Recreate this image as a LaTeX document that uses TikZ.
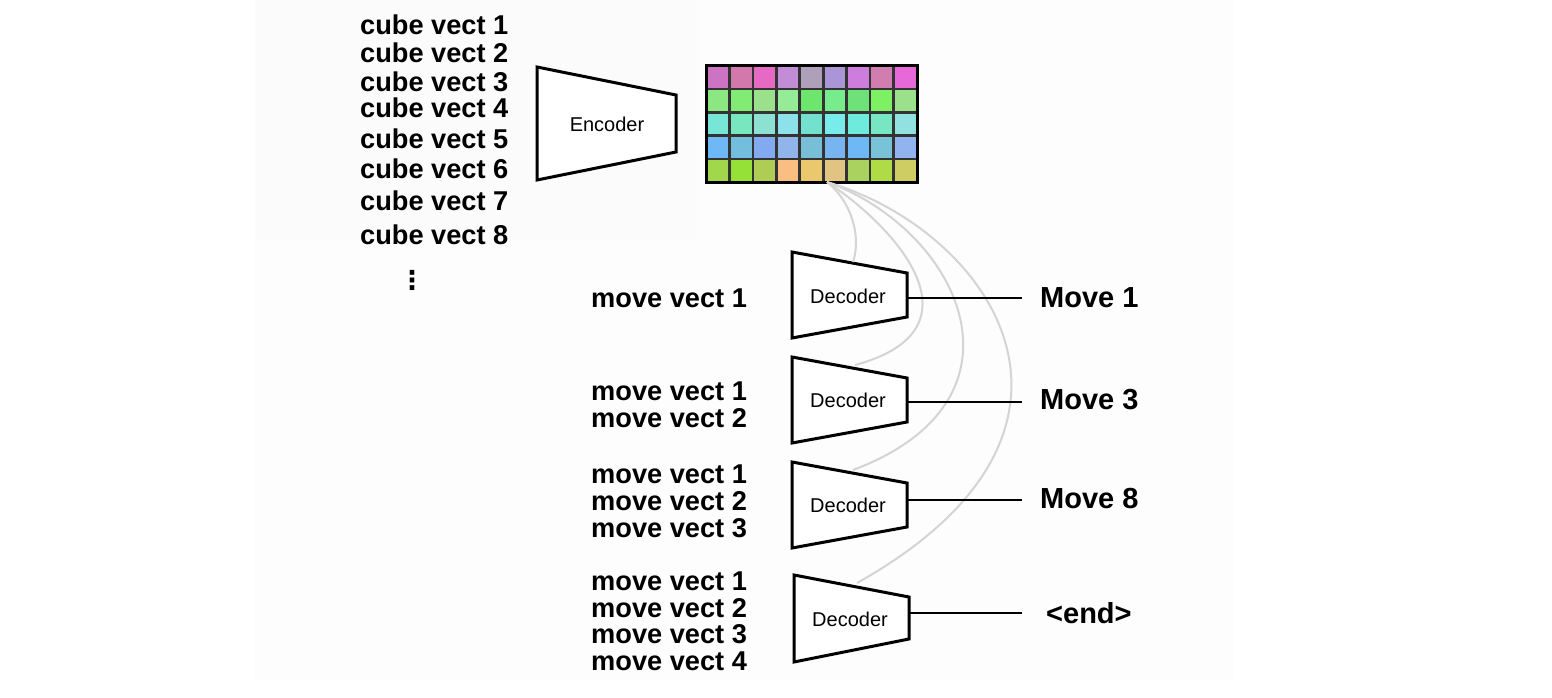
\documentclass[tikz,border=0pt]{standalone}
\usepackage{fontspec}
\setmainfont{Liberation Sans}
\newfontfamily\djv{DejaVu Sans}
\begin{document}
\begin{tikzpicture}[x=1pt,y=-1pt,
  lbl/.style={anchor=base west,inner sep=0pt,font=\fontsize{27.2}{28}\selectfont\bfseries},
  mlbl/.style={anchor=base west,inner sep=0pt,font=\fontsize{29}{30}\selectfont\bfseries},
  boxtxt/.style={inner sep=0pt,font=\fontsize{20}{21}\selectfont},
  trap/.style={draw=black,line width=3pt,line join=miter,fill=white},
  conn/.style={draw=black,line width=2.6pt},
  att/.style={draw=black!17,line width=2pt}]
\useasboundingbox (0,0) rectangle (1552,698);
\fill[white] (0,0) rectangle (1552,698);
\fill[black!0.8] (255,0) rectangle (1233,680);
\fill[black!1.6] (255,0) rectangle (700,240);
% cube vectors
\foreach \i/\b in {1/35,2/63,3/92,4/118,5/148,6/178,7/210,8/244}
  \node[lbl] (cv\i) at (360,\b) {cube vect \i};
\node[inner sep=0pt,font=\djv\fontsize{26}{26}\selectfont\bfseries] (dots) at (412,280) {⋮};
% encoder
\draw[trap] (537,67) -- (676,95) -- (676,152) -- (537,180) -- cycle;
\node[boxtxt] (enc) at (607,124) {Encoder};
% grid
\definecolor{c11}{RGB}{205,115,195}\definecolor{c12}{RGB}{210,120,170}\definecolor{c13}{RGB}{230,105,195}
\definecolor{c14}{RGB}{195,140,215}\definecolor{c15}{RGB}{175,160,185}\definecolor{c16}{RGB}{170,150,215}
\definecolor{c17}{RGB}{205,125,220}\definecolor{c18}{RGB}{210,125,175}\definecolor{c19}{RGB}{230,105,215}
\definecolor{c21}{RGB}{140,230,130}\definecolor{c22}{RGB}{130,235,115}\definecolor{c23}{RGB}{155,225,140}
\definecolor{c24}{RGB}{150,235,150}\definecolor{c25}{RGB}{110,230,110}\definecolor{c26}{RGB}{120,235,140}
\definecolor{c27}{RGB}{110,225,120}\definecolor{c28}{RGB}{125,240,100}\definecolor{c29}{RGB}{155,225,140}
\definecolor{c31}{RGB}{120,230,215}\definecolor{c32}{RGB}{120,230,190}\definecolor{c33}{RGB}{140,225,210}
\definecolor{c34}{RGB}{140,225,235}\definecolor{c35}{RGB}{115,225,205}\definecolor{c36}{RGB}{120,235,235}
\definecolor{c37}{RGB}{110,235,220}\definecolor{c38}{RGB}{120,230,195}\definecolor{c39}{RGB}{145,225,225}
\definecolor{c41}{RGB}{110,185,245}\definecolor{c42}{RGB}{115,190,220}\definecolor{c43}{RGB}{130,170,240}
\definecolor{c44}{RGB}{145,180,235}\definecolor{c45}{RGB}{120,190,215}\definecolor{c46}{RGB}{120,180,240}
\definecolor{c47}{RGB}{110,185,245}\definecolor{c48}{RGB}{120,195,215}\definecolor{c49}{RGB}{145,180,240}
\definecolor{c51}{RGB}{160,215,75}\definecolor{c52}{RGB}{150,225,55}\definecolor{c53}{RGB}{175,205,85}
\definecolor{c54}{RGB}{250,190,130}\definecolor{c55}{RGB}{235,200,110}\definecolor{c56}{RGB}{225,195,130}
\definecolor{c57}{RGB}{170,210,95}\definecolor{c58}{RGB}{175,220,70}\definecolor{c59}{RGB}{205,205,100}
\foreach \r in {1,...,5}
  \foreach \c in {1,...,9}
    \filldraw[fill=c\r\c,draw=black!80,line width=2.6pt]
      ({706+(\c-1)*23.44},{66+(\r-1)*23.2}) rectangle ++(23.44,23.2);
\draw[black,line width=3pt] (706,66) rectangle (917,182);
\coordinate (g) at (827,182);
% decoders
\draw[trap] (792,252) -- (907,273) -- (907,317) -- (792,338) -- cycle;
\draw[trap] (792,357) -- (907,378) -- (907,422) -- (792,443) -- cycle;
\draw[trap] (792,462) -- (907,483) -- (907,527) -- (792,548) -- cycle;
\draw[trap] (794,575) -- (909,597) -- (909,639) -- (794,662) -- cycle;
\node[boxtxt] (dec1) at (848,296) {Decoder};
\node[boxtxt] (dec2) at (848,400) {Decoder};
\node[boxtxt] (dec3) at (848,505) {Decoder};
\node[boxtxt] (dec4) at (850,619) {Decoder};
\coordinate (d1t) at (853,262); \coordinate (d2t) at (855,365);
\coordinate (d3t) at (853,470); \coordinate (d4t) at (857,583);
\coordinate (d1r) at (907,298); \coordinate (d2r) at (907,402);
\coordinate (d3r) at (907,500); \coordinate (d4r) at (909,613);
% attention curves
\draw[att] (g) .. controls (850,200) and (862,235) .. (d1t);
\draw[att] (g) .. controls (900,230) and (985,330) .. (d2t);
\draw[att] (g) .. controls (960,230) and (1040,400) .. (d3t);
\draw[att] (g) .. controls (990,230) and (1130,430) .. (d4t);
% move vectors
\node[lbl] (a1) at (591,307) {move vect 1};
\node[lbl] (b1) at (591,400) {move vect 1};
\node[lbl] (b2) at (591,427) {move vect 2};
\node[lbl] (c1) at (591,483) {move vect 1};
\node[lbl] (c2) at (591,510) {move vect 2};
\node[lbl] (c3) at (591,537) {move vect 3};
\node[lbl] (e1) at (591,590) {move vect 1};
\node[lbl] (e2) at (591,617) {move vect 2};
\node[lbl] (e3) at (591,643) {move vect 3};
\node[lbl] (e4) at (591,670) {move vect 4};
% outputs
\node[mlbl] (m1) at (1040,307) {Move 1};
\node[mlbl] (m2) at (1040,409) {Move 3};
\node[mlbl] (m3) at (1040,508) {Move 8};
\node[mlbl] (m4) at (1046,623) {<end>};
\coordinate (o1) at (1022,298); \coordinate (o2) at (1022,402);
\coordinate (o3) at (1022,500); \coordinate (o4) at (1022,613);
\draw[conn] (d1r) -- (o1);
\draw[conn] (d2r) -- (o2);
\draw[conn] (d3r) -- (o3);
\draw[conn] (d4r) -- (o4);
\end{tikzpicture}
\end{document}
